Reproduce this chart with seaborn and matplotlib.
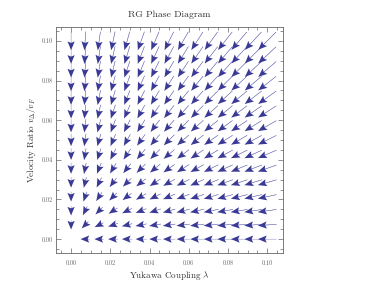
import numpy as np
import matplotlib
matplotlib.use("Agg")
import matplotlib.pyplot as plt
import seaborn as sns
from matplotlib.ticker import MultipleLocator, FormatStrFormatter

# grid of sample points (Yukawa coupling, velocity ratio)
lam_grid = [0.0, 0.00714, 0.01429, 0.02143, 0.02857, 0.03571, 0.04286, 0.05,
            0.05714, 0.06429, 0.07143, 0.07857, 0.08571, 0.09286, 0.1]
vel_grid = [0.0, 0.00714, 0.01429, 0.02143, 0.02857, 0.03571, 0.04286, 0.05,
            0.05714, 0.06429, 0.07143, 0.07857, 0.08571, 0.09286, 0.1]
x_ticks = [0.00, 0.02, 0.04, 0.06, 0.08, 0.10]
y_ticks = [0.00, 0.02, 0.04, 0.06, 0.08, 0.10]
title = "RG Phase Diagram"
xlabel = r"Yukawa Coupling $\lambda$"
ylabel = r"Velocity Ratio $v_{\Delta}/v_F$"

sns.set_theme(style="white")
plt.rcParams["font.family"] = ["cmr10", "DejaVu Serif"]
plt.rcParams["mathtext.fontset"] = "cm"
plt.rcParams["axes.formatter.use_mathtext"] = True

L, V = np.meshgrid(np.array(lam_grid), np.array(vel_grid))
R = np.sqrt(L**2 + V**2)
# RG flow toward the Gaussian fixed point
beta_l = -L * R
beta_v = -V * R
mag = np.sqrt(beta_l**2 + beta_v**2)
safe = np.where(mag > 0, mag, 1.0)
# Mathematica-like arrow length scaling (in pixels)
length = 9.0 + 16.0 * (mag / mag.max()) ** 0.75
U = np.where(mag > 0, beta_l / safe * length, 0.0)
W = np.where(mag > 0, beta_v / safe * length, 0.0)
mask = mag > 0

fig = plt.figure(figsize=(3.86, 2.89), dpi=100)
ax = fig.add_axes([0.145, 0.1246, 0.588, 0.782])
col = "#3a3a96"
# faint shafts
ax.quiver(L[mask], V[mask], U[mask], W[mask], units="dots", angles="uv",
          scale_units="dots", scale=1.0, pivot="middle", width=0.55,
          headwidth=0, headlength=0, headaxislength=0,
          color="#9d9dcf", linewidth=0)
# solid heads
ax.quiver(L[mask], V[mask], U[mask], W[mask], units="dots", angles="uv",
          scale_units="dots", scale=1.0, pivot="middle", width=0.3,
          headwidth=24, headlength=29, headaxislength=24, minshaft=0.5,
          color=col, linewidth=0)

ax.set_xlim(-0.0077, 0.108)
ax.set_ylim(-0.007, 0.107)
ax.set_xticks(x_ticks)
ax.set_yticks(y_ticks)
ax.xaxis.set_major_formatter(FormatStrFormatter("%.2f"))
ax.yaxis.set_major_formatter(FormatStrFormatter("%.2f"))
ax.xaxis.set_minor_locator(MultipleLocator(0.005))
ax.yaxis.set_minor_locator(MultipleLocator(0.005))
ax.tick_params(which="both", direction="in", top=True, right=True,
               bottom=True, left=True, colors="#666666", labelsize=4.5,
               width=0.5)
ax.tick_params(axis="y", which="both", pad=2)
ax.tick_params(axis="x", which="both", pad=5)
ax.tick_params(which="major", length=3.5)
ax.tick_params(which="minor", length=2)
for s in ax.spines.values():
    s.set_color("#666666")
    s.set_linewidth(0.6)

ax.set_title(title, fontsize=7, color="#333333", pad=7)
ax.set_xlabel(xlabel, fontsize=6.5, color="#333333", labelpad=2)
ax.set_ylabel(ylabel, fontsize=6.5, color="#333333", labelpad=3)

fig.savefig("out.png", dpi=100)
